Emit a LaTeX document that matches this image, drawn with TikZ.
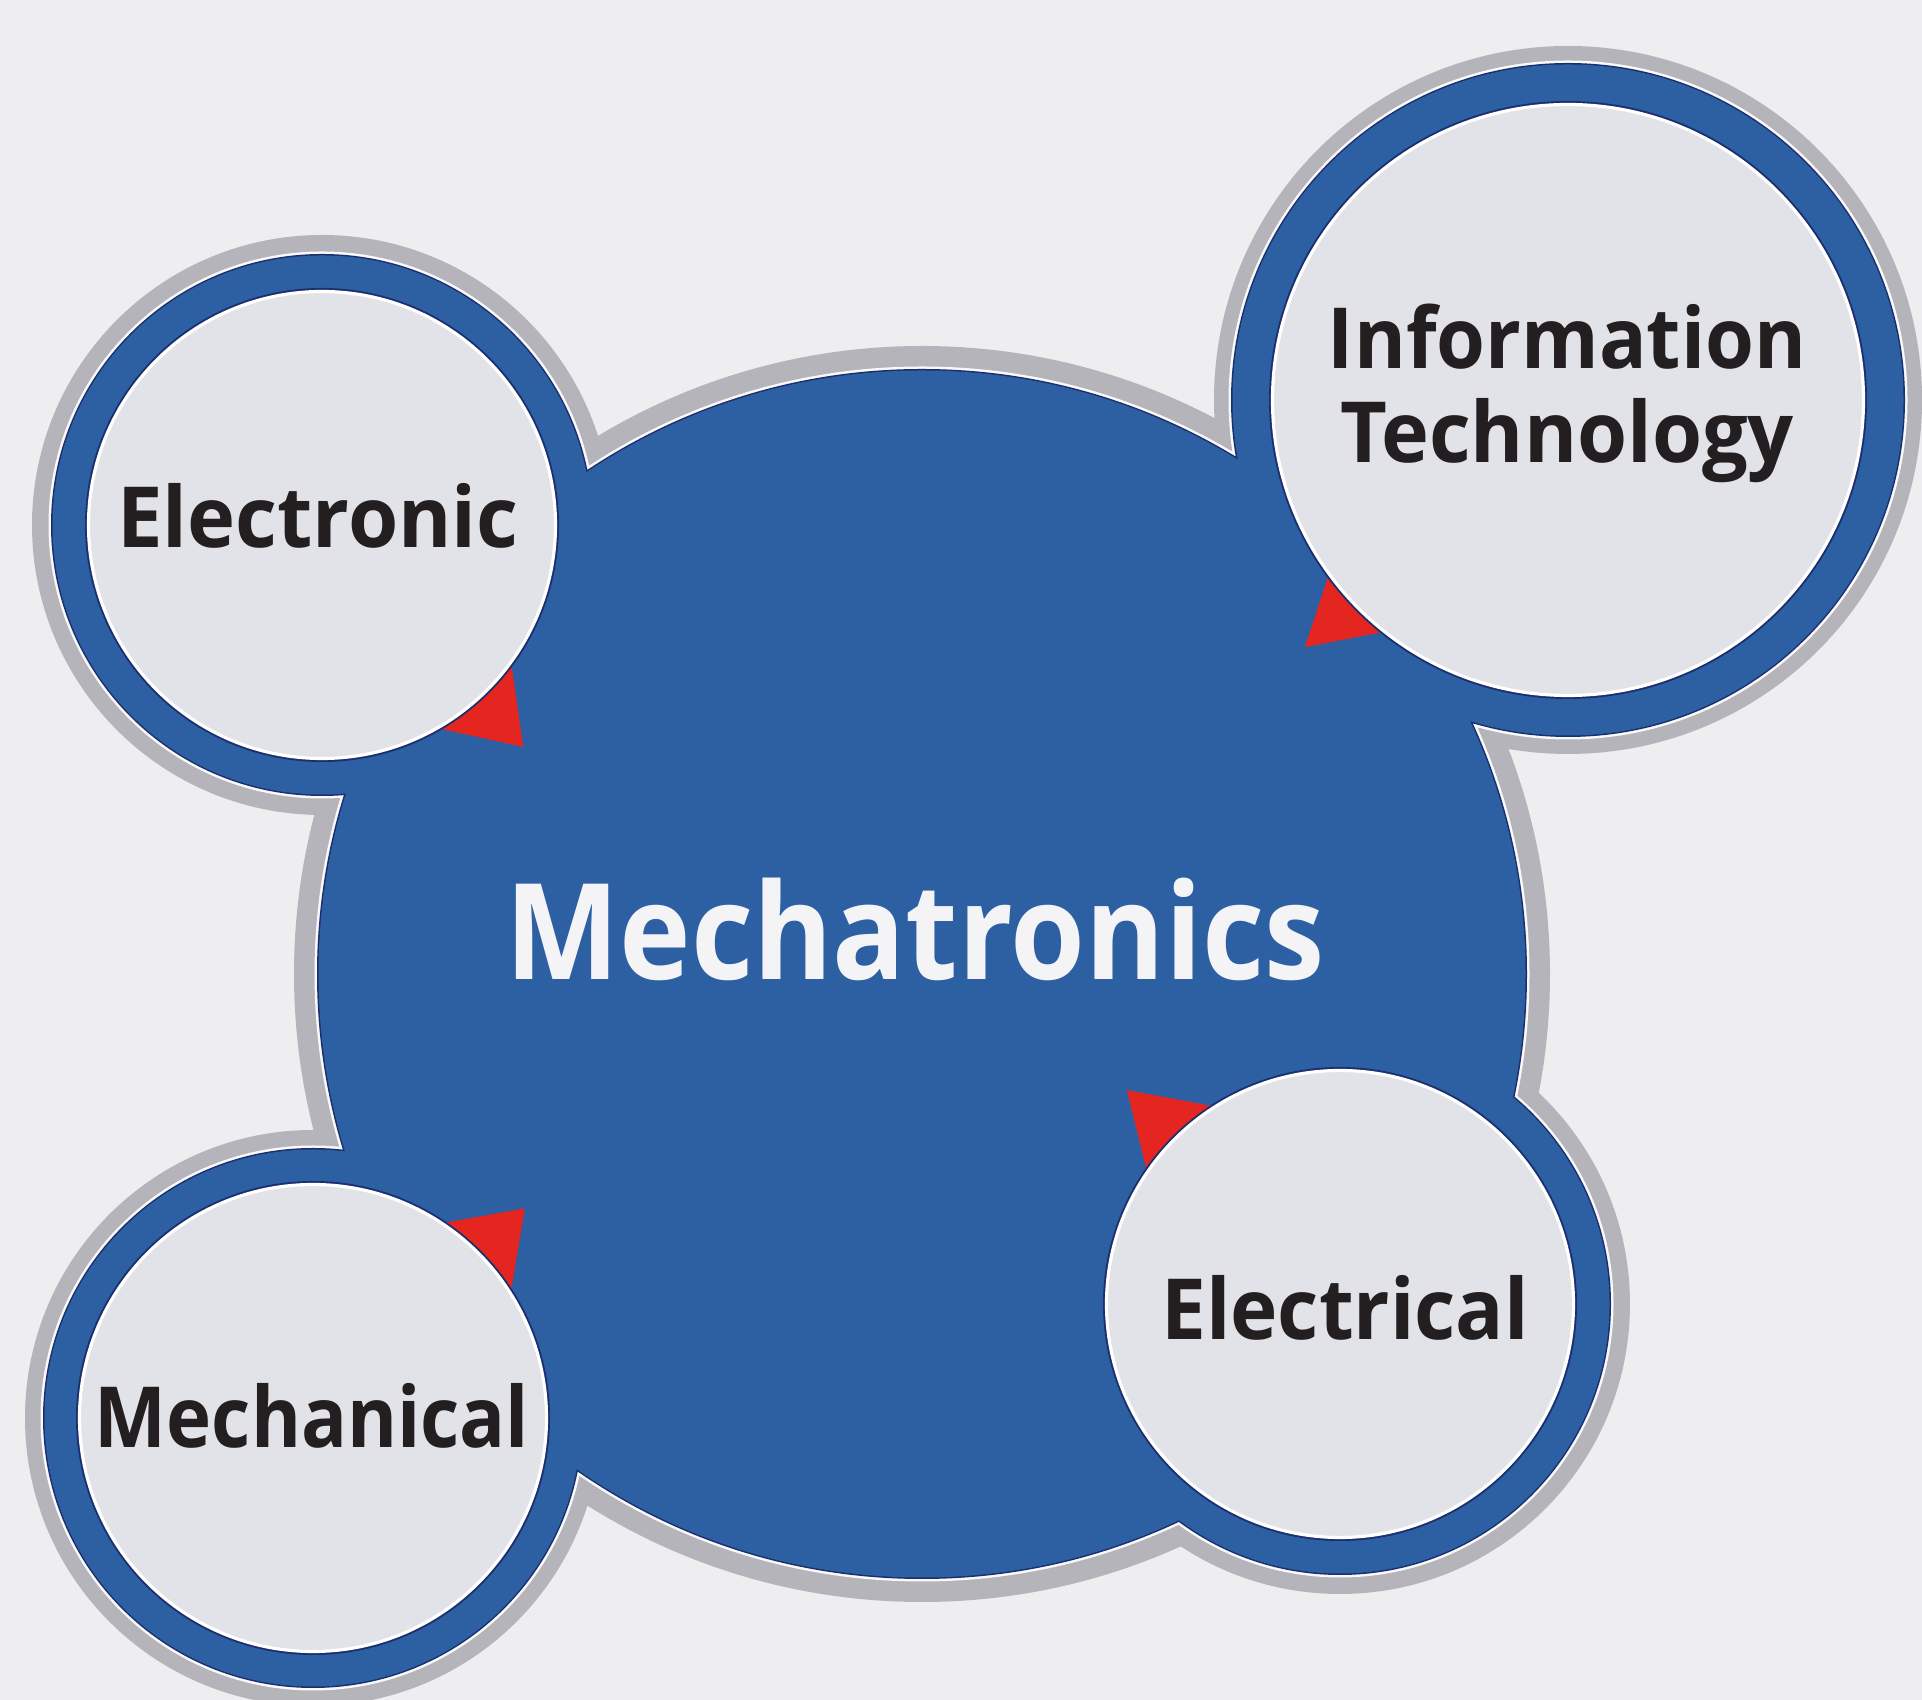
\documentclass[tikz,border=0pt]{standalone}
\usepackage{fontspec}
\setmainfont{Open Sans}
\usetikzlibrary{calc}
\definecolor{bgcol}{HTML}{EEEEF1}
\definecolor{innercol}{HTML}{E2E3E8}
\definecolor{bluecol}{HTML}{2D5FA3}
\definecolor{ringgray}{HTML}{B4B4BA}
\definecolor{navycol}{HTML}{1B2F6E}
\definecolor{redcol}{HTML}{E52620}
\definecolor{textcol}{HTML}{231F20}
\definecolor{whitetext}{HTML}{F4F4F6}
\tikzset{
  label text/.style={font=\fontsize{24}{27}\selectfont\bfseries, text=textcol, inner sep=0pt, anchor=base},
  main text/.style={font=\fontsize{38}{44}\selectfont\bfseries, text=whitetext, inner sep=0pt, anchor=base},
  pointer/.style={fill=redcol},
}
\begin{document}
\begin{tikzpicture}
\useasboundingbox (0,0) rectangle (19.22,17);
\fill[bgcol] (0,0) rectangle (19.22,17);
% centres
\coordinate (cB) at (9.22,7.26);
\coordinate (cE) at (3.22,11.75);
\coordinate (cI) at (15.68,13.00);
\coordinate (cM) at (3.13,2.82);
\coordinate (cL) at (13.40,3.96);
% outer gray outline of the union
\fill[ringgray] (cB) circle (6.28) (cE) circle (2.90) (cI) circle (3.54) (cM) circle (2.88) (cL) circle (2.90);
\fill[white!92!ringgray] (cB) circle (6.075) (cE) circle (2.735) (cI) circle (3.395) (cM) circle (2.725) (cL) circle (2.735);
\fill[navycol] (cB) circle (6.05) (cE) circle (2.71) (cI) circle (3.37) (cM) circle (2.70) (cL) circle (2.71);
\fill[bluecol] (cB) circle (6.035) (cE) circle (2.695) (cI) circle (3.355) (cM) circle (2.685) (cL) circle (2.695);
% red pointers
\coordinate (t1c) at ($(cE)+(-47.8:2.995)$);
\coordinate (t1a) at ($(cE)+(-59.0:2.39)$);
\coordinate (t1b) at ($(cE)+(-37.3:2.39)$);
\fill[pointer] (t1c) -- ($(t1c)!1.3!(t1a)$) -- ($(t1c)!1.3!(t1b)$) -- cycle;
\coordinate (t2c) at ($(cI)+(223.2:3.61)$);
\coordinate (t2a) at ($(cI)+(216.4:2.98)$);
\coordinate (t2b) at ($(cI)+(230.8:3.006)$);
\fill[pointer] (t2c) -- ($(t2c)!1.3!(t2a)$) -- ($(t2c)!1.3!(t2b)$) -- cycle;
\coordinate (t3c) at ($(cL)+(134.9:3.02)$);
\coordinate (t3a) at ($(cL)+(123.7:2.39)$);
\coordinate (t3b) at ($(cL)+(144.5:2.39)$);
\fill[pointer] (t3c) -- ($(t3c)!1.3!(t3a)$) -- ($(t3c)!1.3!(t3b)$) -- cycle;
\coordinate (t4c) at ($(cM)+(44.7:2.98)$);
\coordinate (t4a) at ($(cM)+(55.4:2.38)$);
\coordinate (t4b) at ($(cM)+(33.4:2.38)$);
\fill[pointer] (t4c) -- ($(t4c)!1.3!(t4a)$) -- ($(t4c)!1.3!(t4b)$) -- cycle;
% inner discs
\fill[navycol] (cE) circle (2.37) (cI) circle (2.99) (cM) circle (2.37) (cL) circle (2.37);
\fill[innercol, draw=white, line width=0.9pt] (cE) circle (2.335) (cI) circle (2.955) (cM) circle (2.335) (cL) circle (2.335);
% labels
\node[main text] (mecha) at (9.15,7.20) {\scalebox{0.906}[1]{Mechatronics}};
\node[label text] (electronic) at (3.18,11.52) {\scalebox{0.964}[1]{Electronic}};
\node[label text, align=center] (infotech) at (15.67,12.37) {\scalebox{0.937}[1]{Information}\\\scalebox{0.96}[1]{Technology}};
\node[label text] (mechanical) at (3.12,2.52) {\scalebox{0.904}[1]{Mechanical}};
\node[label text] (electrical) at (13.45,3.60) {\scalebox{0.95}[1]{Electrical}};
\end{tikzpicture}
\end{document}
